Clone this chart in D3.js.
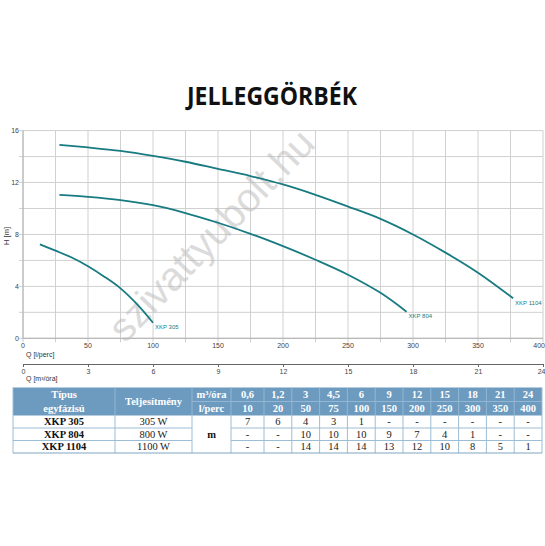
<!DOCTYPE html>
<html>
<head>
<meta charset="utf-8">
<script src="https://cdn.jsdelivr.net/npm/d3@7"></script>
<style>
  body { margin: 0; background: #fff; }
  svg { display: block; }
</style>
</head>
<body>
<svg id="chart" width="545" height="546"></svg>
<script>
// values
const models = ["XKP 305", "XKP 804", "XKP 1104"];
const powers = ["305 W", "800 W", "1100 W"];

// pump curves, [Q l/perc, H m]
const curve305 = [[13, 7.24], [25, 6.75], [37.5, 6.22], [50, 5.55], [62.5, 4.75], [75, 3.85], [87.5, 2.65], [100, 1.2]];
const curve804 = [[28, 11.05], [50, 10.9], [75, 10.65], [100, 10.25], [125, 9.65], [150, 8.9], [175, 8.05],
                  [200, 7.1], [225, 6.05], [250, 4.9], [275, 3.5], [295, 2.05]];
const curve1104 = [[28, 14.9], [50, 14.7], [75, 14.43], [100, 14.05], [125, 13.6], [150, 13.05], [175, 12.5],
                   [200, 11.85], [225, 11.05], [250, 10.15], [275, 9.2], [300, 8.0], [325, 6.6], [350, 5.05], [377, 3.08]];

// axis ticks
const qTicks = [0, 50, 100, 150, 200, 250, 300, 350, 400];
const m3Ticks = [0, 3, 6, 9, 12, 15, 18, 21, 24];
const hTicks = [0, 4, 8, 12, 16];

// table
const flowM3 = ["0,6", "1,2", "3", "4,5", "6", "9", "12", "15", "18", "21", "24"];
const flowLpm = ["10", "20", "50", "75", "100", "150", "200", "250", "300", "350", "400"];
const head305 = ["7", "6", "4", "3", "1", "-", "-", "-", "-", "-", "-"];
const head804 = ["-", "-", "10", "10", "10", "9", "7", "4", "1", "-", "-"];
const head1104 = ["-", "-", "14", "14", "14", "13", "12", "10", "8", "5", "1"];

const TEAL = "#187b81";
const GRID = "#d0d0d0";
const HEAD_BG = "#6d9bbf";
const CELL_LINE = "#9cbdd6";

const svg = d3.select("#chart");

// title
svg.append("text")
  .attr("x", 272).attr("y", 105)
  .attr("text-anchor", "middle")
  .attr("textLength", 170).attr("lengthAdjust", "spacingAndGlyphs")
  .style("font-family", "'Open Sans', sans-serif")
  .style("font-weight", 700)
  .style("font-size", "25px")
  .style("fill", "#111")
  .text("JELLEGGÖRBÉK");

// scales
const x = d3.scaleLinear().domain([0, 400]).range([23, 543]);
const xm3 = d3.scaleLinear().domain([0, 24]).range([23, 543]);
const y = d3.scaleLinear().domain([0, 16]).range([338.3, 130.6]);

// grid
const grid = svg.append("g");
grid.selectAll(".vg").data(d3.range(0, 401, 25)).join("line")
  .attr("x1", d => x(d)).attr("x2", d => x(d))
  .attr("y1", y(16)).attr("y2", y(0) + 4)
  .attr("stroke", GRID).attr("stroke-width", 1);
grid.selectAll(".hg").data(d3.range(0, 17, 2)).join("line")
  .attr("x1", x(0) - 4).attr("x2", x(400))
  .attr("y1", d => y(d)).attr("y2", d => y(d))
  .attr("stroke", GRID).attr("stroke-width", 1);
// axis lines
grid.append("line").attr("x1", x(0)).attr("x2", x(0)).attr("y1", y(16)).attr("y2", y(0))
  .attr("stroke", "#b0b0b0");
grid.append("line").attr("x1", x(0)).attr("x2", x(400)).attr("y1", y(0)).attr("y2", y(0))
  .attr("stroke", "#b0b0b0");

// watermark
svg.append("text")
  .attr("transform", "translate(211,235) rotate(-46)")
  .attr("text-anchor", "middle")
  .attr("dy", "0.35em")
  .style("font-family", "'Liberation Sans', Arial, sans-serif")
  .style("font-size", "40px")
  .style("fill", "#b8b8b8")
  .style("opacity", 0.5)
  .text("szivattyubolt.hu");

// tick labels
const tickFont = "'Liberation Sans', Arial, sans-serif";
const lastAnchor = (d, i, n) => i === n.length - 1 ? "end" : "middle";
svg.append("g").selectAll("text").data(hTicks).join("text")
  .attr("x", 19).attr("y", d => y(d)).attr("dy", "0.35em")
  .attr("text-anchor", "end")
  .style("font-family", tickFont).style("font-size", "7px").style("fill", "#444")
  .text(d => d);
svg.append("g").selectAll("text").data(qTicks).join("text")
  .attr("x", (d, i, n) => i === n.length - 1 ? 545 : x(d)).attr("y", 345.7).attr("dy", "0.35em")
  .attr("text-anchor", lastAnchor)
  .style("font-family", tickFont).style("font-size", "7px").style("fill", "#444")
  .text(d => d);

svg.append("text")
  .attr("transform", "translate(8.5,236) rotate(-90)")
  .attr("text-anchor", "middle")
  .style("font-family", tickFont).style("font-size", "7.5px").style("fill", "#333")
  .text("H [m]");
svg.append("text")
  .attr("x", 26).attr("y", 354.5).attr("dy", "0.35em")
  .style("font-family", tickFont).style("font-size", "7px").style("fill", "#333")
  .text("Q [l/perc]");

// second flow axis (m3/h)
const axM3 = svg.append("g")
  .attr("transform", "translate(0,364)")
  .call(d3.axisBottom(xm3).tickValues(m3Ticks).tickSize(3).tickSizeOuter(3).tickPadding(2));
axM3.select(".domain").attr("stroke", "#666");
axM3.selectAll(".tick line").attr("stroke", "#666");
axM3.selectAll(".tick text")
  .style("font-family", tickFont).style("font-size", "7px").style("fill", "#444");
axM3.selectAll(".tick").filter(d => d === 24).select("text")
  .attr("text-anchor", "end").attr("x", 2);
svg.append("text")
  .attr("x", 26).attr("y", 378.5).attr("dy", "0.35em")
  .style("font-family", tickFont).style("font-size", "7px").style("fill", "#333")
  .text("Q [m³/óra]");

// curves
const line = d3.line().x(d => x(d[0])).y(d => y(d[1])).curve(d3.curveCatmullRom.alpha(0.5));
const curves = [curve305, curve804, curve1104];
svg.append("g").selectAll("path").data(curves).join("path")
  .attr("d", line)
  .attr("fill", "none")
  .attr("stroke", TEAL)
  .attr("stroke-width", 1.8);
svg.append("g").selectAll("text").data(curves).join("text")
  .attr("x", d => x(d[d.length - 1][0]) + 2)
  .attr("y", d => y(d[d.length - 1][1]) + 4.5)
  .attr("dy", "0.35em")
  .style("font-family", tickFont).style("font-size", "6px").style("fill", TEAL)
  .text((d, i) => models[i]);

// table
const colEdges = [13, 115, 192, 231].concat(d3.range(11).map(i => 264 + i * 27.8));
const rowEdges = [387.5, 401.5, 415.5, 428, 440.5, 453];
const colMid = i => (colEdges[i] + colEdges[i + 1]) / 2;
const rowMid = i => (rowEdges[i] + rowEdges[i + 1]) / 2;
const tbl = svg.append("g");
const serif = "'Liberation Serif', 'Times New Roman', serif";

tbl.append("rect")
  .attr("x", colEdges[0]).attr("y", rowEdges[0])
  .attr("width", colEdges[colEdges.length - 1] - colEdges[0])
  .attr("height", rowEdges[2] - rowEdges[0])
  .attr("fill", HEAD_BG);

// header separators
tbl.selectAll(".hv").data(colEdges.slice(1, -1)).join("line")
  .attr("x1", d => d).attr("x2", d => d)
  .attr("y1", rowEdges[0]).attr("y2", rowEdges[2])
  .attr("stroke", "#93b7d2").attr("stroke-width", 1);
tbl.append("line")
  .attr("x1", colEdges[2]).attr("x2", colEdges[colEdges.length - 1])
  .attr("y1", rowEdges[1]).attr("y2", rowEdges[1])
  .attr("stroke", "#93b7d2");

// body lines
tbl.selectAll(".bv").data(colEdges).join("line")
  .attr("x1", d => d).attr("x2", d => d)
  .attr("y1", (d, i) => (i === 0 || i === colEdges.length - 1) ? rowEdges[0] : rowEdges[2])
  .attr("y2", rowEdges[5])
  .attr("stroke", CELL_LINE);
[3, 4].forEach(r => {
  tbl.append("line").attr("x1", colEdges[0]).attr("x2", colEdges[2])
    .attr("y1", rowEdges[r]).attr("y2", rowEdges[r]).attr("stroke", CELL_LINE);
  tbl.append("line").attr("x1", colEdges[3]).attr("x2", colEdges[colEdges.length - 1])
    .attr("y1", rowEdges[r]).attr("y2", rowEdges[r]).attr("stroke", CELL_LINE);
});
tbl.append("line").attr("x1", colEdges[0]).attr("x2", colEdges[colEdges.length - 1])
  .attr("y1", rowEdges[5]).attr("y2", rowEdges[5]).attr("stroke", "#7fa6c4").attr("stroke-width", 1.2);

function cell(txt, cx, cy, color, bold) {
  tbl.append("text")
    .attr("x", cx).attr("y", cy).attr("dy", "0.35em")
    .attr("text-anchor", "middle")
    .style("font-family", serif)
    .style("font-size", "10.5px")
    .style("font-weight", bold ? 700 : 400)
    .style("fill", color)
    .text(txt);
}

// header text
cell("Típus", colMid(0), rowMid(0), "#fff", true);
cell("egyfázisú", colMid(0), rowMid(1), "#fff", true);
cell("Teljesítmény", colMid(1), rowEdges[1], "#fff", true);
cell("m³/óra", colMid(2), rowMid(0), "#fff", true);
cell("l/perc", colMid(2), rowMid(1), "#fff", true);
flowM3.forEach((v, i) => cell(v, colMid(i + 3), rowMid(0), "#fff", true));
flowLpm.forEach((v, i) => cell(v, colMid(i + 3), rowMid(1), "#fff", true));

// body text
const heads = [head305, head804, head1104];
models.forEach((m, r) => {
  cell(m, colMid(0), rowMid(r + 2), "#111", true);
  cell(powers[r], colMid(1), rowMid(r + 2), "#222", false);
  heads[r].forEach((v, i) => cell(v, colMid(i + 3), rowMid(r + 2), "#222", false));
});
cell("m", colMid(2), rowMid(3), "#111", true);
</script>
</body>
</html>
